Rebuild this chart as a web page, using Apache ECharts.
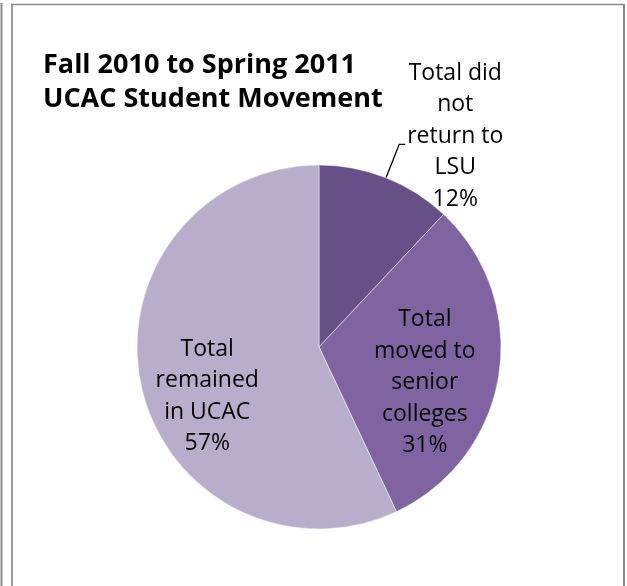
<!DOCTYPE html>
<html>
<head>
<meta charset="utf-8">
<script src="https://cdn.jsdelivr.net/npm/echarts@6/dist/echarts.min.js"></script>
<style>
html,body{margin:0;padding:0;background:#fff;}
#c{width:627px;height:586px;}
</style>
</head>
<body>
<div id="c"></div>
<script>
var titleLines = ['Fall 2010 to Spring 2011', 'UCAC Student Movement'];
var categories = ['Total did not return to LSU', 'Total moved to senior colleges', 'Total remained in UCAC'];
var labelLines = [
  ['Total did', 'not', 'return to', 'LSU'],
  ['Total', 'moved to', 'senior', 'colleges'],
  ['Total', 'remained', 'in UCAC']
];
var values = [12, 31, 57];
var colors = ['#675087', '#8064a2', '#b8aecc'];

var FONT = '"Open Sans", "Noto Sans", sans-serif';
var offsets = [null, {dx: 13, dy: 21}, {dx: -20, dy: 29}];

var chart = echarts.init(document.getElementById('c'), null, {renderer: 'canvas'});

var data = values.map(function (v, i) {
  var item = {value: v, name: categories[i], itemStyle: {color: colors[i]}};
  if (i === 0) {
    item.label = {position: 'outside', distanceToLabelLine: 0, padding: [0, 0, 16, 0]};
    item.labelLine = {show: true, length: 36, length2: 6, lineStyle: {color: '#000', width: 1.3}};
  } else {
    item.label = {position: 'inside'};
    item.labelLine = {show: false};
  }
  return item;
});

chart.setOption({
  animation: false,
  backgroundColor: '#ffffff',
  title: {
    text: titleLines.join('\n'),
    left: 43,
    top: 48,
    padding: 0,
    textStyle: {fontFamily: FONT, fontWeight: 'bold', fontSize: 27, lineHeight: 34, color: '#000'}
  },
  graphic: [
    {type: 'line', shape: {x1: 1.5, y1: 3, x2: 1.5, y2: 590}, style: {stroke: '#8a8a8a', lineWidth: 2}, silent: true},
    {type: 'line', shape: {x1: 12, y1: 4.5, x2: 12, y2: 590}, style: {stroke: '#9a9a9a', lineWidth: 2}, silent: true},
    {type: 'line', shape: {x1: 11, y1: 4.5, x2: 624.5, y2: 4.5}, style: {stroke: '#8a8a8a', lineWidth: 1.5}, silent: true},
    {type: 'line', shape: {x1: 624, y1: 4, x2: 624, y2: 590}, style: {stroke: '#8a8a8a', lineWidth: 2}, silent: true}
  ],
  series: [{
    type: 'pie',
    center: [319, 347],
    radius: 182,
    startAngle: 90,
    clockwise: true,
    avoidLabelOverlap: false,
    emphasis: {disabled: true},
    itemStyle: {borderColor: 'rgba(255,255,255,0.6)', borderWidth: 0.8},
    label: {
      show: true,
      color: '#000',
      fontFamily: FONT,
      fontSize: 23,
      lineHeight: 31.5,
      formatter: function (p) {
        var lines = labelLines[p.dataIndex].concat([Math.round(p.percent) + '%']);
        return lines.map(function (s) { return '{c|' + s + '}'; }).join('\n');
      },
      rich: {
        c: {fontFamily: FONT, fontSize: 23, lineHeight: 31.5, color: '#000', width: 100, align: 'center'}
      }
    },
    labelLayout: function (p) {
      var o = offsets[p.dataIndex];
      return o ? {dx: o.dx, dy: o.dy} : {};
    },
    data: data
  }]
});
</script>
</body>
</html>
